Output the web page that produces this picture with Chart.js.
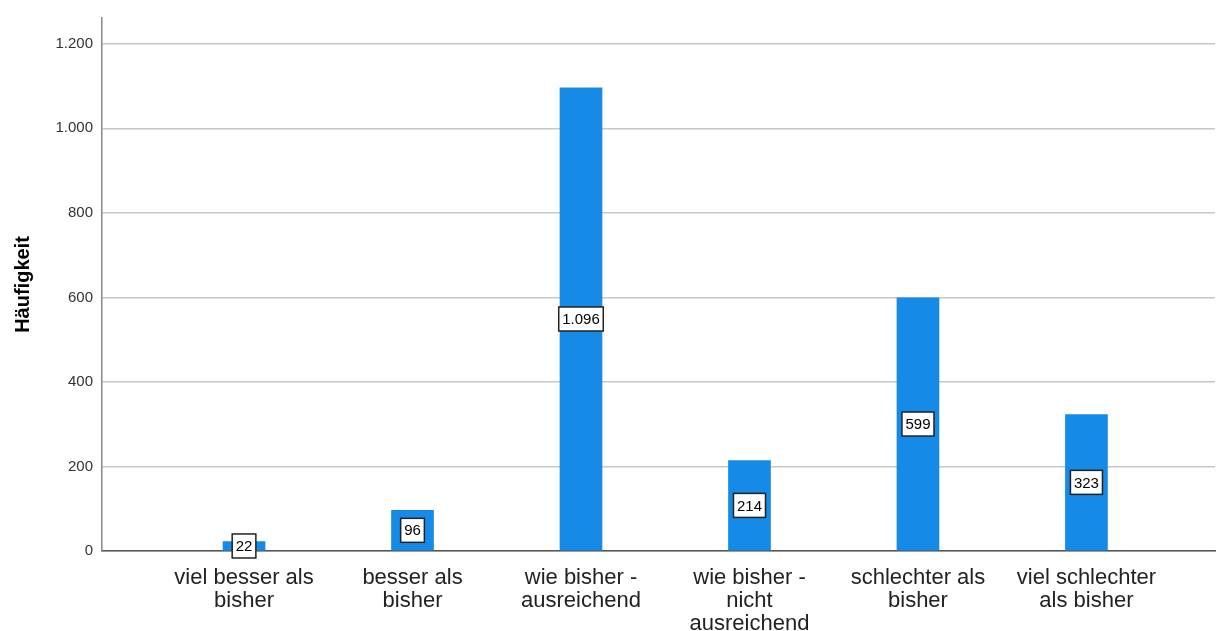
<!DOCTYPE html>
<html>
<head>
<meta charset="utf-8">
<script src="https://cdn.jsdelivr.net/npm/chart.js@4/dist/chart.umd.min.js"></script>
<style>
  html, body { margin: 0; padding: 0; background: #fff; }
  #wrap { width: 1216px; height: 631px; }
</style>
</head>
<body>
<div id="wrap"><canvas id="c"></canvas></div>
<script>
const categories = [
  ["viel besser als", "bisher"],
  ["besser als", "bisher"],
  ["wie bisher -", "ausreichend"],
  ["wie bisher -", "nicht", "ausreichend"],
  ["schlechter als", "bisher"],
  ["viel schlechter", "als bisher"]
];
const counts = [22, 96, 1096, 214, 599, 323];
const yTicks = [0, 200, 400, 600, 800, 1000, 1200];

const fmt = v => String(v).replace(/\B(?=(\d{3})+(?!\d))/g, ".");
const FONT = "'Liberation Sans', Arial, sans-serif";

const boxLabels = {
  id: "boxLabels",
  afterDatasetsDraw(chart) {
    const ctx = chart.ctx;
    const meta = chart.getDatasetMeta(0);
    ctx.save();
    ctx.font = "15px " + FONT;
    ctx.textAlign = "center";
    ctx.textBaseline = "middle";
    meta.data.forEach((bar, i) => {
      const txt = fmt(counts[i]);
      const cx = bar.x;
      const cy = (bar.y + bar.base) / 2;
      const w = ctx.measureText(txt).width + 7;
      const h = 24;
      ctx.fillStyle = "#fff";
      ctx.fillRect(cx - w / 2, cy - h / 2, w, h);
      ctx.strokeStyle = "#222";
      ctx.lineWidth = 1.5;
      ctx.strokeRect(cx - w / 2, cy - h / 2, w, h);
      ctx.fillStyle = "#000";
      ctx.fillText(txt, cx, cy + 1);
    });
    ctx.restore();
  }
};

new Chart(document.getElementById("c"), {
  type: "bar",
  data: {
    datasets: [{
      data: counts.map((v, i) => ({ x: i, y: v })),
      backgroundColor: "rgb(21, 138, 230)",
      borderWidth: 0,
      barThickness: 42
    }]
  },
  options: {
    responsive: true,
    maintainAspectRatio: false,
    animation: false,
    layout: { padding: { top: 13, right: 1, left: 0, bottom: 0 } },
    plugins: { legend: { display: false }, tooltip: { enabled: false } },
    scales: {
      x: {
        type: "linear",
        offset: false,
        min: -0.843,
        max: 5.763,
        grid: { display: false },
        border: { color: "#555", width: 1.5 },
        afterBuildTicks: s => { s.ticks = categories.map((c, i) => ({ value: i })); },
        afterFit: s => { s.height = 80; },
        ticks: {
          autoSkip: false,
          maxRotation: 0,
          padding: 7,
          color: "#222",
          font: { family: FONT, size: 22, lineHeight: 1.045 },
          callback: v => categories[v]
        }
      },
      y: {
        min: 0,
        max: 1261,
        afterBuildTicks: s => { s.ticks = yTicks.map(v => ({ value: v })); },
        afterFit: s => { s.width = 102; },
        grid: { color: "#c8c8c8", lineWidth: 1.5, drawTicks: false },
        border: { color: "#888", width: 1.5 },
        ticks: {
          padding: 9,
          color: "#333",
          font: { family: FONT, size: 15 },
          callback: v => fmt(v)
        },
        title: {
          display: true,
          text: "Häufigkeit",
          color: "#000",
          font: { family: FONT, size: 20, weight: "bold" },
          padding: { top: 11, bottom: 10 }
        }
      }
    }
  },
  plugins: [boxLabels]
});
</script>
</body>
</html>
